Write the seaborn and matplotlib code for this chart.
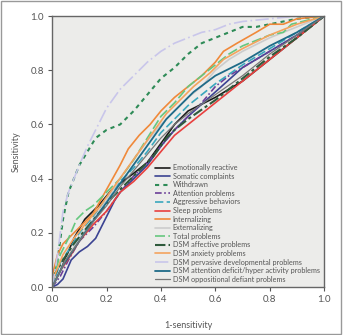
import seaborn as sns
import matplotlib.pyplot as plt
from matplotlib.patches import Rectangle

sns.set_style('ticks')
plt.rcParams['font.family'] = ['Lato', 'DejaVu Sans']

names = ['Emotionally reactive', 'Somatic complaints', 'Withdrawn', 'Attention problems',
         'Aggressive behaviors', 'Sleep problems', 'Internalizing', 'Externalizing',
         'Total problems', 'DSM affective problems', 'DSM anxiety problems',
         'DSM pervasive developmental problems',
         'DSM attention deficit/hyper activity problems',
         'DSM oppositional defiant problems']

emo_x = [0, 0.03, 0.08, 0.12, 0.17, 0.22, 0.3, 0.35, 0.4, 0.45, 0.5, 0.6, 0.7, 0.8, 0.9, 1]
emo_y = [0, 0.06, 0.18, 0.25, 0.3, 0.36, 0.42, 0.46, 0.53, 0.6, 0.65, 0.7, 0.76, 0.84, 0.92, 1]

som_x = [0, 0.02, 0.04, 0.07, 0.1, 0.13, 0.16, 0.19, 0.23, 0.25, 0.3, 0.35, 0.4, 0.45, 0.5, 0.6, 0.7, 0.8, 0.9, 1]
som_y = [0, 0.01, 0.03, 0.1, 0.13, 0.15, 0.18, 0.24, 0.32, 0.35, 0.4, 0.45, 0.52, 0.58, 0.63, 0.72, 0.81, 0.87, 0.93, 1]

wit_x = [0, 0.02, 0.04, 0.06, 0.08, 0.1, 0.13, 0.16, 0.2, 0.25, 0.3, 0.35, 0.4, 0.45, 0.5, 0.55, 0.6, 0.65, 0.7, 0.75, 0.8, 0.85, 0.9, 1]
wit_y = [0, 0.1, 0.25, 0.35, 0.4, 0.45, 0.5, 0.55, 0.58, 0.6, 0.65, 0.71, 0.77, 0.81, 0.86, 0.9, 0.92, 0.94, 0.96, 0.96, 0.97, 0.98, 0.99, 1]

att_x = [0, 0.03, 0.06, 0.1, 0.15, 0.2, 0.25, 0.3, 0.35, 0.4, 0.45, 0.5, 0.55, 0.6, 0.65, 0.7, 0.8, 0.9, 1]
att_y = [0, 0.04, 0.1, 0.17, 0.22, 0.28, 0.35, 0.41, 0.46, 0.52, 0.58, 0.63, 0.68, 0.74, 0.78, 0.81, 0.87, 0.93, 1]

agg_x = [0, 0.03, 0.07, 0.1, 0.15, 0.2, 0.25, 0.3, 0.35, 0.4, 0.45, 0.5, 0.6, 0.7, 0.8, 0.9, 1]
agg_y = [0, 0.09, 0.15, 0.2, 0.26, 0.32, 0.39, 0.44, 0.5, 0.57, 0.62, 0.67, 0.75, 0.82, 0.88, 0.94, 1]

slp_x = [0, 0.03, 0.07, 0.1, 0.15, 0.2, 0.25, 0.3, 0.35, 0.4, 0.45, 0.5, 0.6, 0.7, 0.8, 0.9, 1]
slp_y = [0, 0.06, 0.12, 0.17, 0.23, 0.28, 0.35, 0.39, 0.44, 0.5, 0.56, 0.6, 0.68, 0.76, 0.84, 0.92, 1]

int_x = [0, 0.02, 0.04, 0.07, 0.1, 0.15, 0.2, 0.25, 0.28, 0.32, 0.36, 0.4, 0.45, 0.5, 0.55, 0.6, 0.63, 0.68, 0.75, 0.8, 0.85, 0.9, 1]
int_y = [0.04, 0.12, 0.16, 0.19, 0.22, 0.27, 0.36, 0.45, 0.51, 0.56, 0.6, 0.65, 0.7, 0.74, 0.78, 0.83, 0.87, 0.9, 0.94, 0.97, 0.97, 0.99, 1]

ext_x = [0, 0.05, 0.1, 0.15, 0.2, 0.25, 0.3, 0.35, 0.4, 0.45, 0.5, 0.55, 0.6, 0.65, 0.7, 0.8, 0.9, 1]
ext_y = [0, 0.1, 0.18, 0.25, 0.32, 0.4, 0.47, 0.54, 0.6, 0.65, 0.7, 0.74, 0.8, 0.84, 0.87, 0.92, 0.96, 1]

tot_x = [0, 0.03, 0.06, 0.09, 0.12, 0.15, 0.2, 0.25, 0.3, 0.35, 0.4, 0.45, 0.5, 0.55, 0.6, 0.65, 0.7, 0.75, 0.8, 0.85, 0.88, 1]
tot_y = [0.02, 0.12, 0.18, 0.25, 0.28, 0.3, 0.35, 0.4, 0.47, 0.55, 0.63, 0.68, 0.74, 0.78, 0.82, 0.86, 0.89, 0.91, 0.93, 0.94, 0.97, 1]

aff_x = [0, 0.04, 0.08, 0.12, 0.17, 0.22, 0.27, 0.32, 0.37, 0.42, 0.45, 0.5, 0.6, 0.7, 0.8, 0.9, 1]
aff_y = [0.03, 0.1, 0.16, 0.21, 0.27, 0.33, 0.38, 0.43, 0.48, 0.55, 0.58, 0.62, 0.69, 0.77, 0.85, 0.92, 1]

anx_x = [0, 0.04, 0.08, 0.12, 0.17, 0.22, 0.27, 0.32, 0.37, 0.42, 0.47, 0.52, 0.58, 0.63, 0.7, 0.8, 0.9, 1]
anx_y = [0.02, 0.12, 0.18, 0.23, 0.29, 0.36, 0.43, 0.5, 0.57, 0.64, 0.69, 0.74, 0.79, 0.84, 0.88, 0.93, 0.97, 1]

pdd_x = [0, 0.02, 0.03, 0.04, 0.06, 0.08, 0.1, 0.13, 0.16, 0.2, 0.25, 0.3, 0.35, 0.4, 0.45, 0.5, 0.55, 0.6, 0.65, 0.7, 0.8, 0.9, 1]
pdd_y = [0, 0.12, 0.2, 0.28, 0.35, 0.4, 0.45, 0.52, 0.58, 0.66, 0.73, 0.78, 0.83, 0.87, 0.9, 0.92, 0.94, 0.95, 0.97, 0.98, 0.99, 1.0, 1]

adh_x = [0, 0.04, 0.08, 0.12, 0.17, 0.22, 0.27, 0.32, 0.37, 0.42, 0.47, 0.52, 0.6, 0.7, 0.8, 0.9, 1]
adh_y = [0, 0.08, 0.14, 0.2, 0.27, 0.34, 0.41, 0.48, 0.55, 0.62, 0.67, 0.72, 0.78, 0.83, 0.89, 0.94, 1]

odd_x = [0, 0.05, 0.1, 0.15, 0.2, 0.25, 0.3, 0.35, 0.4, 0.45, 0.5, 0.6, 0.7, 0.8, 0.9, 1]
odd_y = [0, 0.1, 0.17, 0.24, 0.3, 0.37, 0.43, 0.49, 0.55, 0.6, 0.64, 0.71, 0.78, 0.86, 0.93, 1]

series = [(emo_x, emo_y), (som_x, som_y), (wit_x, wit_y), (att_x, att_y), (agg_x, agg_y),
          (slp_x, slp_y), (int_x, int_y), (ext_x, ext_y), (tot_x, tot_y), (aff_x, aff_y),
          (anx_x, anx_y), (pdd_x, pdd_y), (adh_x, adh_y), (odd_x, odd_y)]

colors = ['#1a1a1a', '#3b4392', '#2e8b57', '#6b3f98', '#3aa7bd', '#e8403f', '#f0893a',
          '#cccccc', '#66c77f', '#2f5a3c', '#f4a35e', '#c9c6ea', '#1f6b88', '#777777']
styles = ['-', '-', (0, (2, 2)), (0, (4, 1.5, 1, 1.5)), (0, (5, 2)), '-', '-', '-',
          (0, (6, 2)), (0, (5, 1.5, 1.5, 1.5)), '-', (0, (8, 2, 1, 2)), '-', '-']
widths = [1.2, 1.2, 1.5, 1.2, 1.2, 1.2, 1.2, 1.2, 1.2, 1.5, 1.2, 1.2, 1.3, 0.9]

fig = plt.figure(figsize=(3.43, 3.35), dpi=100)
ax = fig.add_axes([0.152, 0.143, 0.793, 0.809])
ax.set_facecolor('#ececea')

for (xs, ys), name, c, ls, lw in zip(series, names, colors, styles, widths):
    sns.lineplot(x=xs, y=ys, ax=ax, color=c, linestyle=ls, linewidth=lw,
                 label=name, sort=False, estimator=None)

ax.set_xlim(0, 1)
ax.set_ylim(0, 1)
ticks = [0.0, 0.2, 0.4, 0.6, 0.8, 1.0]
ax.set_xticks(ticks)
ax.set_yticks(ticks)
ax.set_xticklabels([f'{t:.1f}' for t in ticks])
ax.set_yticklabels([f'{t:.1f}' for t in ticks])
ax.tick_params(labelsize=7, colors='#555555', length=3, width=0.8, pad=3)
for s in ax.spines.values():
    s.set_color('#666666')
    s.set_linewidth(1.0)
ax.set_xlabel('1-sensitivity', fontsize=6.5, color='#555555', labelpad=12)
ax.set_ylabel('Sensitivity', fontsize=6.5, color='#555555', labelpad=7)

ax.legend(loc='lower right', frameon=False, fontsize=5.2, handlelength=2.0,
          handletextpad=0.4, labelspacing=0.22, borderaxespad=0.2,
          bbox_to_anchor=(1.0, 0.0), labelcolor='#555555')

fig.patches.append(Rectangle((0.004, 0.003), 0.99, 0.994, transform=fig.transFigure,
                             fill=False, edgecolor='#999999', linewidth=1.0))

fig.savefig('out.png', dpi=100, facecolor='white')
